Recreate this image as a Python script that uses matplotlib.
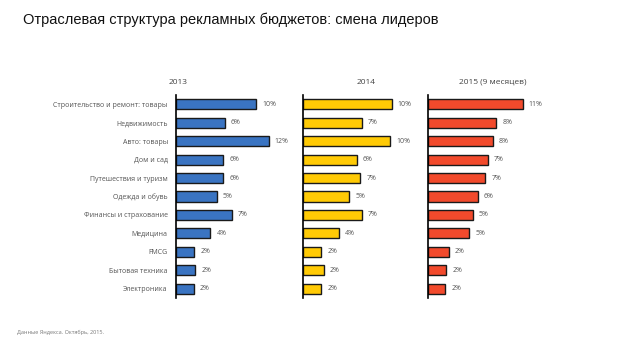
import matplotlib
matplotlib.use("Agg")
import matplotlib.pyplot as plt

categories = ["Строительство и ремонт: товары", "Недвижимость", "Авто: товары",
              "Дом и сад", "Путешествия и туризм", "Одежда и обувь",
              "Финансы и страхование", "Медицина", "FMCG", "Бытовая техника",
              "Электроника"]
values_2013 = [10.0, 6.1, 11.6, 5.9, 5.9, 5.1, 7.0, 4.3, 2.3, 2.4, 2.2]
values_2014 = [10.4, 6.9, 10.2, 6.3, 6.7, 5.4, 6.9, 4.2, 2.1, 2.4, 2.1]
values_2015 = [11.1, 8.0, 7.6, 7.0, 6.7, 5.8, 5.2, 4.8, 2.4, 2.1, 2.0]
panel_titles = ["2013", "2014", "2015 (9 месяцев)"]
title = "Отраслевая структура рекламных бюджетов: смена лидеров"
footer = "Данные Яндекса. Октябрь, 2015."

W, H = 638, 359
fig = plt.figure(figsize=(W / 100, H / 100), dpi=100)
fig.patch.set_facecolor("white")

small_font = ["Open Sans", "DejaVu Sans"]
colors = ["#3a74c2", "#ffca05", "#f24a2c"]
lefts = [176, 303.3, 428.3]
scales = [8.0, 8.5, 8.5]   # px per percent, per panel
ax_w = 110
bottom_px, top_px = 298, 95
title_x = [178, 366, 493]

series = [values_2013, values_2014, values_2015]
for i, (vals, col) in enumerate(zip(series, colors)):
    ax = fig.add_axes([lefts[i] / W, (H - bottom_px) / H, ax_w / W, (bottom_px - top_px) / H])
    y = list(range(len(categories)))
    ax.barh(y, vals, height=0.55, color=col, edgecolor="#1a1a1a", linewidth=1.0)
    ax.set_xlim(0, ax_w / scales[i])
    ax.set_ylim(len(categories) - 0.5, -0.5)
    for s in ["top", "right", "bottom"]:
        ax.spines[s].set_visible(False)
    ax.spines["left"].set_linewidth(1.2)
    ax.spines["left"].set_color("black")
    ax.set_xticks([])
    ax.tick_params(axis="y", length=0, pad=6)
    if i == 0:
        ax.set_yticks(y)
        ax.set_yticklabels(categories, fontsize=5, color="#555555", family=small_font)
    else:
        ax.set_yticks([])
    for yy, v in zip(y, vals):
        ax.text(v + 6 / scales[i], yy, f"{round(v):d}%", va="center", ha="left",
                fontsize=5, color="#555555", family=small_font)
    fig.text(title_x[i] / W, 1 - 82 / H, panel_titles[i], ha="center", va="center",
             fontsize=6, color="#444444", family=small_font)

fig.text(23 / W, 1 - 20 / H, title, ha="left", va="center", fontsize=10.5,
         color="#111111", family=["Liberation Sans", "DejaVu Sans"])
fig.text(17 / W, 1 - 332 / H, footer, ha="left", va="center", fontsize=4,
         color="#777777", family=small_font)

fig.savefig("out.png", dpi=100, facecolor="white")
